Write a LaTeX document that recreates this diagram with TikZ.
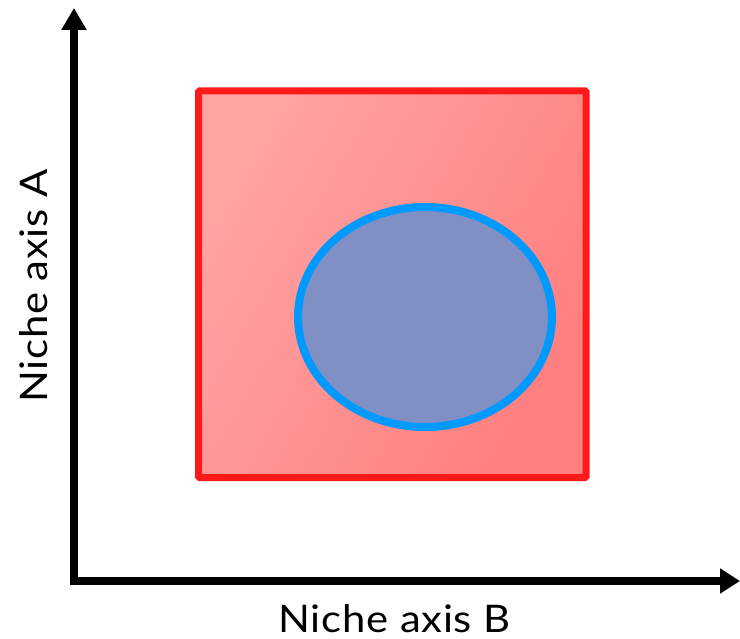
\documentclass[tikz,border=0pt]{standalone}
\usepackage{fontspec}
\setmainfont{Lato}[FakeStretch=1.1, LetterSpace=2]
\usetikzlibrary{arrows.meta}

\definecolor{nicheRed}{HTML}{FF1A1A}
\definecolor{nicheRedLight}{HTML}{FFA3A3}
\definecolor{nicheRedDark}{HTML}{FF7E7E}
\definecolor{nicheBlue}{HTML}{0099FF}
\definecolor{nicheFill}{HTML}{8090C4}

\begin{document}
\begin{tikzpicture}[x=1pt, y=-1pt,
    axisline/.style={line width=8pt, line join=miter,
      {Triangle[width=24pt, length=22pt]}-{Triangle[width=24pt, length=20pt]}},
    axislabel/.style={font=\fontsize{38}{44}\selectfont, inner sep=0pt}]
  \useasboundingbox (0,0) rectangle (740,639);

  % Coordinates
  \coordinate (O) at (74.00, 581.00);
  \coordinate (Ytip) at (74.00, 8.00);
  \coordinate (Xtip) at (740.00, 581.00);
  \coordinate (P1) at (198.50, 91.00);
  \coordinate (P2) at (586.00, 477.50);
  \coordinate (M) at (425.00, 317.00);

  % Drawing
  \shade[left color=nicheRedLight, right color=nicheRedDark, shading angle=60]
    (P1) rectangle (P2);
  \draw[nicheRed, line width=7pt, rounded corners=1pt] (P1) rectangle (P2);
  \filldraw[draw=nicheBlue, fill=nicheFill, line width=8pt]
    (M) ellipse [x radius=127, y radius=110];
  \draw[axisline] (Ytip) -- (O) -- (Xtip);

  \node[axislabel, anchor=base] (labB) at (394.50, 632.00) {Niche axis B};
  \node[axislabel, anchor=base, rotate=90] (labA) at (47.00, 286.00) {Niche axis A};
\end{tikzpicture}
\end{document}
